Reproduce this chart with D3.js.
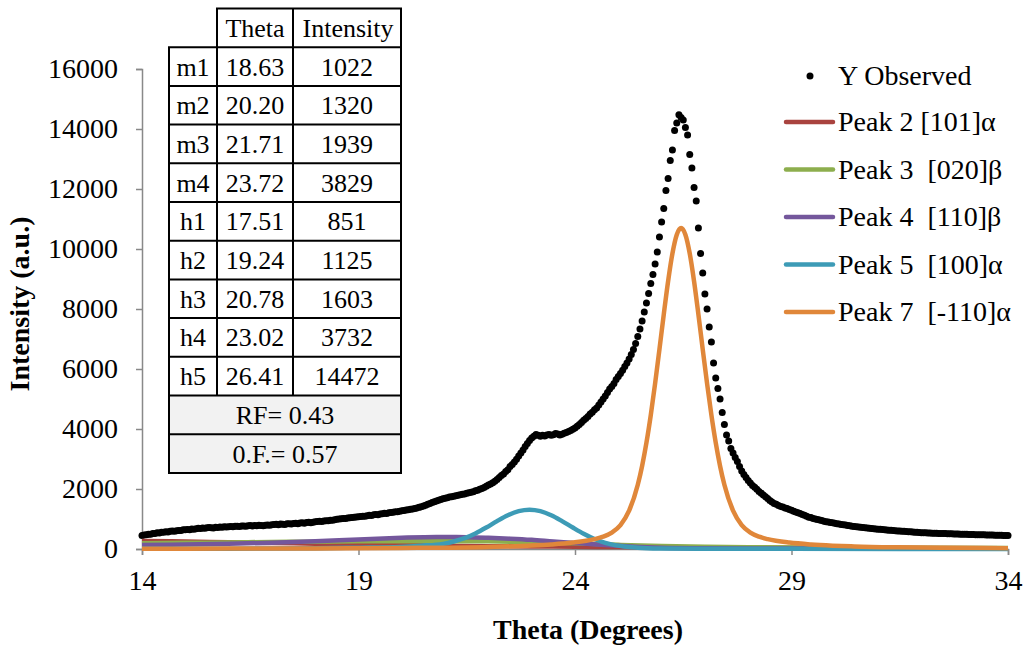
<!DOCTYPE html>
<html>
<head>
<meta charset="utf-8">
<script src="https://cdnjs.cloudflare.com/ajax/libs/d3/7.8.5/d3.min.js"></script>
<style>
  body { margin: 0; background: #fff; }
  svg { font-family: "Liberation Serif", "Times New Roman", serif; }
  .tick text { font-size: 28px; fill: #000; }
</style>
</head>
<body>
<svg width="1027" height="646"></svg>
<script>
// observed scan, 14.00 .. 34.00 deg, step 0.05
var thetaStart = 14, thetaStep = 0.05;
var observed = [
  450, 470, 478, 495, 490, 515, 520, 540, 532, 555, 560, 572, 565, 590, 598, 588, 612, 620, 615, 638,
  640, 652, 645, 668, 660, 676, 690, 682, 700, 695, 705, 718, 710, 702, 725, 720, 733, 728, 740, 735,
  742, 750, 738, 755, 762, 748, 770, 765, 758, 775, 780, 770, 786, 778, 790, 782, 775, 795, 800, 790,
  805, 815, 822, 812, 830, 826, 818, 838, 845, 832, 850, 858, 845, 866, 872, 860, 880, 888, 878, 895,
  905, 918, 925, 915, 936, 945, 938, 955, 962, 972, 990, 998, 1010, 1020, 1015, 1032, 1040, 1048, 1060, 1065,
  1075, 1082, 1095, 1090, 1110, 1125, 1118, 1138, 1150, 1145, 1170, 1178, 1190, 1185, 1205, 1215, 1225, 1238, 1245, 1262,
  1275, 1285, 1298, 1310, 1322, 1335, 1352, 1370, 1388, 1408, 1430, 1460, 1490, 1520, 1550, 1575, 1603, 1628, 1652, 1676,
  1695, 1712, 1730, 1742, 1760, 1775, 1792, 1808, 1825, 1835, 1855, 1872, 1890, 1910, 1939, 1960, 1990, 2020, 2050, 2090,
  2130, 2170, 2210, 2260, 2320, 2380, 2450, 2500, 2580, 2640, 2750, 2820, 2900, 2990, 3100, 3200, 3300, 3420, 3520, 3620,
  3700, 3760, 3820, 3790, 3760, 3790, 3770, 3800, 3820, 3790, 3810, 3850, 3830, 3800, 3829, 3860, 3880, 3920, 3950, 3990,
  4030, 4090, 4150, 4220, 4290, 4350, 4420, 4500, 4560, 4640, 4700, 4800, 4900, 5000, 5100, 5220, 5330, 5420, 5520, 5650,
  5750, 5850, 5960, 6080, 6200, 6330, 6480, 6650, 6850, 7080, 7330, 7600, 7900, 8200, 8520, 8850, 9150, 9500, 9900, 10400,
  10900, 11350, 11950, 12350, 12950, 13300, 13950, 14200, 14472, 14380, 14300, 14050, 13800, 13150, 12700, 12050, 11600, 10700, 9850, 9200,
  8500, 8000, 7400, 6900, 6200, 5700, 5350, 5000, 4550, 4150, 3800, 3600, 3350, 3200, 3050, 2920, 2750, 2600, 2480, 2380,
  2280, 2200, 2120, 2060, 1990, 1920, 1860, 1800, 1740, 1680, 1620, 1570, 1520, 1490, 1450, 1420, 1400, 1370, 1350, 1320,
  1290, 1260, 1235, 1205, 1180, 1150, 1125, 1090, 1060, 1048, 1020, 1002, 980, 968, 950, 928, 910, 898, 880, 872,
  860, 845, 834, 820, 812, 796, 785, 774, 760, 752, 742, 731, 722, 716, 705, 698, 690, 684, 675, 668,
  660, 656, 648, 642, 636, 628, 624, 615, 611, 604, 598, 595, 590, 583, 579, 572, 566, 561, 555, 551,
  545, 541, 538, 533, 531, 528, 524, 522, 520, 517, 515, 513, 510, 506, 505, 500, 499, 496, 494, 492,
  490, 489, 485, 483, 480, 479, 476, 474, 472, 472, 470, 468, 466, 465, 462, 461, 458, 457, 454, 452,
  450
];

// fitted components
var peak2Theta = [14, 15, 16, 17, 18, 19, 20, 21, 22, 23, 24, 25, 26, 28, 30, 34];
var peak2 = [270, 250, 225, 200, 175, 150, 130, 110, 95, 85, 75, 65, 55, 45, 35, 25];

var peak3Theta = [14, 15, 16, 17, 18, 19, 20, 21, 22, 23, 24, 25, 26, 27, 28, 30, 34];
var peak3 = [190, 205, 220, 235, 245, 255, 260, 262, 255, 230, 190, 140, 100, 75, 60, 45, 30];

var peak4Theta = [14, 15, 16, 17, 18, 19, 20, 20.8, 21.5, 22, 22.5, 23, 23.5, 24, 24.5, 25, 25.5, 26, 27, 29, 34];
var peak4 = [130, 150, 175, 210, 260, 320, 375, 400, 395, 375, 345, 305, 250, 200, 150, 105, 70, 45, 25, 15, 8];

var peak5Theta = [14, 16, 18, 19, 19.95, 20.45, 20.95, 21.2, 21.45, 21.7, 21.95, 22.2, 22.45, 22.7, 22.95,
                  23.2, 23.45, 23.7, 23.95, 24.2, 24.45, 24.7, 24.95, 25.45, 25.95, 27, 29, 34];
var peak5 = [5, 10, 25, 45, 70, 110, 170, 250, 360, 520, 715, 930, 1125, 1262, 1310,
             1262, 1125, 930, 715, 510, 335, 205, 120, 45, 20, 10, 5, 2];

var peak7Theta = [14, 16, 18, 20, 22, 23, 23.45, 23.95, 24.45, 24.65, 24.85, 25.05, 25.25, 25.45, 25.55, 25.65,
                  25.75, 25.85, 25.95, 26.05, 26.15, 26.25, 26.35, 26.45, 26.55, 26.65, 26.75, 26.85, 26.95,
                  27.05, 27.15, 27.25, 27.35, 27.45, 27.65, 27.85, 28.05, 28.25, 28.45, 28.95, 29.45, 29.95,
                  30.45, 31.45, 32.45, 34];
var peak7 = [9, 13, 20, 34, 70, 115, 151, 214, 329, 410, 546, 797, 1276, 2140, 2769, 3544,
             4465, 5515, 6653, 7819, 8923, 9850, 10477, 10700, 10477, 9850, 8923, 7819, 6653,
             5515, 4465, 3544, 2769, 2140, 1276, 797, 546, 410, 329, 214, 151, 112,
             86, 56, 39, 25];

var seriesNames = ["Peak 2 [101]\u03b1", "Peak 3  [020]\u03b2", "Peak 4  [110]\u03b2", "Peak 5  [100]\u03b1", "Peak 7  [-110]\u03b1"];
var seriesColors = ["#a9433f", "#8dae4d", "#74579c", "#3d9bb6", "#e0873a"];

var xTicks = [14, 19, 24, 29, 34];
var yTicks = [0, 2000, 4000, 6000, 8000, 10000, 12000, 14000, 16000];

// inset table
var tableLabels = ["m1", "m2", "m3", "m4", "h1", "h2", "h3", "h4", "h5"];
var tableTheta = ["18.63", "20.20", "21.71", "23.72", "17.51", "19.24", "20.78", "23.02", "26.41"];
var tableIntensity = ["1022", "1320", "1939", "3829", "851", "1125", "1603", "3732", "14472"];
var tableFooter = ["RF= 0.43", "0.F.= 0.57"];

var svg = d3.select("svg");
var plotLeft = 142, plotRight = 1008, plotTop = 69, plotBottom = 549;

var x = d3.scaleLinear().domain([14, 34]).range([plotLeft, plotRight]);
var y = d3.scaleLinear().domain([0, 16000]).range([plotBottom, plotTop]);

// axes
var xAxis = svg.append("g")
    .attr("transform", "translate(0," + plotBottom + ")")
    .call(d3.axisBottom(x).tickValues(xTicks).tickSize(6).tickPadding(15).tickFormat(d3.format("d")));
var yAxis = svg.append("g")
    .attr("transform", "translate(" + plotLeft + ",0)")
    .call(d3.axisLeft(y).tickValues(yTicks).tickSize(6).tickPadding(18).tickFormat(d3.format("d")));
[xAxis, yAxis].forEach(function(a) {
    a.attr("font-family", null).attr("font-size", null);
    a.select(".domain").attr("stroke", "#898989").attr("stroke-width", 1.5);
    a.selectAll(".tick line").attr("stroke", "#898989").attr("stroke-width", 1.5);
});
xAxis.selectAll(".tick text").attr("dy", "0.71em");

svg.append("text")
    .attr("x", (plotLeft + plotRight) / 2 + 13).attr("y", 639)
    .attr("text-anchor", "middle")
    .attr("font-weight", "bold").attr("font-size", 28)
    .text("Theta (Degrees)");
svg.append("text")
    .attr("transform", "translate(29," + ((plotTop + plotBottom) / 2 - 5) + ") rotate(-90)")
    .attr("text-anchor", "middle")
    .attr("font-weight", "bold").attr("font-size", 28)
    .text("Intensity (a.u.)");

// observed dots
var obsData = observed.map(function(v, i) { return { t: thetaStart + i * thetaStep, v: v }; });
svg.append("g").selectAll("circle")
    .data(obsData)
    .enter().append("circle")
    .attr("cx", function(d) { return x(d.t); })
    .attr("cy", function(d) { return y(d.v); })
    .attr("r", 3.5)
    .attr("fill", "#000");

// component curves
var peaks = [
    { th: peak2Theta, v: peak2 },
    { th: peak3Theta, v: peak3 },
    { th: peak4Theta, v: peak4 },
    { th: peak5Theta, v: peak5 },
    { th: peak7Theta, v: peak7 }
];
var line = d3.line()
    .x(function(d) { return x(d[0]); })
    .y(function(d) { return y(d[1]); })
    .curve(d3.curveMonotoneX);
peaks.forEach(function(p, i) {
    svg.append("path")
        .datum(d3.zip(p.th, p.v))
        .attr("d", line)
        .attr("fill", "none")
        .attr("stroke", seriesColors[i])
        .attr("stroke-width", 4.5);
});

// legend
var lg = svg.append("g").attr("font-size", 28);
lg.append("circle").attr("cx", 810).attr("cy", 76).attr("r", 3.5).attr("fill", "#000");
lg.append("text").attr("x", 838).attr("y", 85).text("Y Observed");
seriesNames.forEach(function(name, i) {
    var ly = 122 + i * 47.5;
    lg.append("line")
        .attr("x1", 786).attr("x2", 833).attr("y1", ly).attr("y2", ly)
        .attr("stroke", seriesColors[i]).attr("stroke-width", 4.5)
        .attr("stroke-linecap", "round");
    lg.append("text").attr("x", 838).attr("y", ly + 9)
        .style("white-space", "pre").text(name);
});

// table
var colX = [169, 217, 293, 401];
var rowH = 38.7, tTop = 8.5;
var tg = svg.append("g").attr("font-size", 26);
var nBody = tableLabels.length;
var tBottom = tTop + rowH * (nBody + 3);
// footer fill
tg.append("rect")
    .attr("x", colX[0]).attr("y", tTop + rowH * (nBody + 1))
    .attr("width", colX[3] - colX[0]).attr("height", rowH * 2)
    .attr("fill", "#f2f2f2");
function hline(x1, x2, yy) {
    tg.append("line").attr("x1", x1).attr("x2", x2).attr("y1", yy).attr("y2", yy)
        .attr("stroke", "#000").attr("stroke-width", 2);
}
function vline(xx, y1, y2) {
    tg.append("line").attr("x1", xx).attr("x2", xx).attr("y1", y1).attr("y2", y2)
        .attr("stroke", "#000").attr("stroke-width", 2);
}
hline(colX[1] - 1, colX[3] + 1, tTop);
for (var r = 1; r <= nBody + 3; r++) hline(colX[0] - 1, colX[3] + 1, tTop + r * rowH);
vline(colX[0], tTop + rowH, tBottom);
vline(colX[1], tTop, tTop + rowH * (nBody + 1));
vline(colX[2], tTop, tTop + rowH * (nBody + 1));
vline(colX[3], tTop, tBottom);

function cell(txt, cx, row) {
    tg.append("text")
        .attr("x", cx).attr("y", tTop + row * rowH + rowH / 2 + 9)
        .attr("text-anchor", "middle").text(txt);
}
cell("Theta", (colX[1] + colX[2]) / 2, 0);
cell("Intensity", (colX[2] + colX[3]) / 2 + 1, 0);
tableLabels.forEach(function(lbl, i) {
    cell(lbl, (colX[0] + colX[1]) / 2, i + 1);
    cell(tableTheta[i], (colX[1] + colX[2]) / 2, i + 1);
    cell(tableIntensity[i], (colX[2] + colX[3]) / 2, i + 1);
});
tableFooter.forEach(function(txt, i) {
    cell(txt, (colX[0] + colX[3]) / 2, nBody + 1 + i);
});
</script>
</body>
</html>
